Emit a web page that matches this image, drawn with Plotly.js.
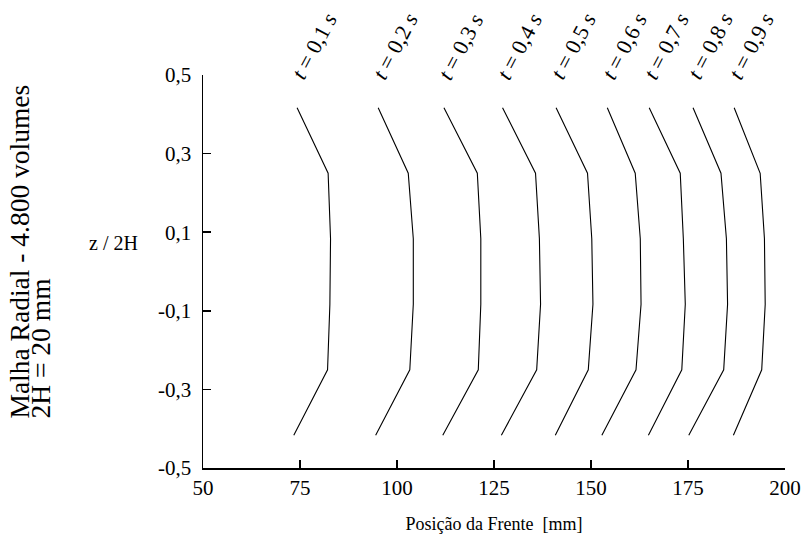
<!DOCTYPE html>
<html>
<head>
<meta charset="utf-8">
<script src="https://cdn.plot.ly/plotly-3.0.1.min.js"></script>
<style>html,body{margin:0;padding:0;background:#fff;}</style>
</head>
<body>
<div id="chart" style="width:805px;height:546px;"></div>
<script>
// z / 2H positions of the front points (top to bottom)
const zPoints = [0.4167, 0.25, 0.0833, -0.0833, -0.25, -0.4167];

// front position [mm] at each z point, one array per time
const front_t01 = [74.25, 82.25, 82.87, 82.7, 82.1, 73.4];
const front_t02 = [95.15, 102.9, 104.2, 104.2, 103.3, 94.5];
const front_t03 = [112.1, 120.7, 121.6, 121.6, 120.95, 111.8];
const front_t04 = [127.2, 135.7, 136.7, 137.0, 136.0, 126.9];
const front_t05 = [141.0, 149.1, 150.2, 150.5, 149.3, 140.8];
const front_t06 = [154.2, 161.4, 162.7, 162.9, 161.6, 152.8];
const front_t07 = [165.0, 173.0, 173.8, 174.3, 173.4, 164.8];
const front_t08 = [176.3, 183.5, 184.9, 185.2, 184.2, 175.2];
const front_t09 = [186.9, 193.6, 194.7, 194.9, 194.0, 186.7];

const timeLabels = ['0,1', '0,2', '0,3', '0,4', '0,5', '0,6', '0,7', '0,8', '0,9'];

const xTickVals = [50, 75, 100, 125, 150, 175, 200];
const xTickText = ['50', '75', '100', '125', '150', '175', '200'];
const yTickVals = [-0.5, -0.3, -0.1, 0.1, 0.3, 0.5];
const yTickText = ['-0,5', '-0,3', '-0,1', '0,1', '0,3', '0,5'];

const fronts = [front_t01, front_t02, front_t03, front_t04, front_t05,
                front_t06, front_t07, front_t08, front_t09];

const FONT = '"Liberation Serif", "Times New Roman", serif';

const traces = fronts.map((xs, i) => ({
  type: 'scatter',
  mode: 'lines',
  x: xs,
  y: zPoints,
  line: {color: '#000', width: 1.1},
  name: 't = ' + timeLabels[i] + ' s',
  showlegend: false,
  hoverinfo: 'x+y'
}));

const annotations = fronts.map((xs, i) => ({
  xref: 'x', yref: 'paper',
  x: xs[0], y: 1.072,
  xshift: 17,
  xanchor: 'center', yanchor: 'middle',
  text: '<i>t</i> = ' + timeLabels[i] + ' <i>s</i>',
  textangle: -62,
  showarrow: false,
  font: {family: FONT, size: 22, color: '#000'}
}));

annotations.push({
  xref: 'paper', yref: 'paper',
  x: -0.345, y: 0.12, xanchor: 'left', yanchor: 'bottom',
  text: 'Malha Radial - 4.800 volumes',
  textangle: -90, showarrow: false,
  font: {family: FONT, size: 27.5, color: '#000'}
});
annotations.push({
  xref: 'paper', yref: 'paper',
  x: -0.309, y: 0.12, xanchor: 'left', yanchor: 'bottom',
  text: '2H = 20 mm',
  textangle: -90, showarrow: false,
  font: {family: FONT, size: 27.5, color: '#000'}
});
annotations.push({
  xref: 'paper', yref: 'paper',
  x: -0.1536, y: 0.573, xanchor: 'center', yanchor: 'middle',
  text: 'z / 2H',
  showarrow: false,
  font: {family: FONT, size: 20, color: '#000'}
});

const layout = {
  width: 805, height: 546,
  autosize: false,
  margin: {l: 203, r: 20, t: 75, b: 78, pad: 0},
  paper_bgcolor: '#fff',
  plot_bgcolor: '#fff',
  showlegend: false,
  font: {family: FONT, size: 21, color: '#000'},
  xaxis: {
    range: [50, 200],
    tickmode: 'array', tickvals: xTickVals, ticktext: xTickText,
    ticks: 'inside', ticklen: 8, tickwidth: 1.5, tickcolor: '#000',
    showline: true, linecolor: '#000', linewidth: 1.5,
    showgrid: false, zeroline: false,
    tickfont: {family: FONT, size: 21, color: '#000'},
    title: {text: 'Posição da Frente \u00a0[mm]', standoff: 18,
            font: {family: FONT, size: 18, color: '#000'}}
  },
  yaxis: {
    range: [-0.5, 0.5],
    tickmode: 'array', tickvals: yTickVals, ticktext: yTickText,
    ticks: 'inside', ticklen: 8, tickwidth: 1.5, tickcolor: '#000',
    showline: true, linecolor: '#000', linewidth: 1.5,
    showgrid: false, zeroline: false,
    ticklabelstandoff: 6,
    tickfont: {family: FONT, size: 21, color: '#000'}
  },
  annotations: annotations
};

Plotly.newPlot('chart', traces, layout, {displayModeBar: false, staticPlot: true});
</script>
</body>
</html>
